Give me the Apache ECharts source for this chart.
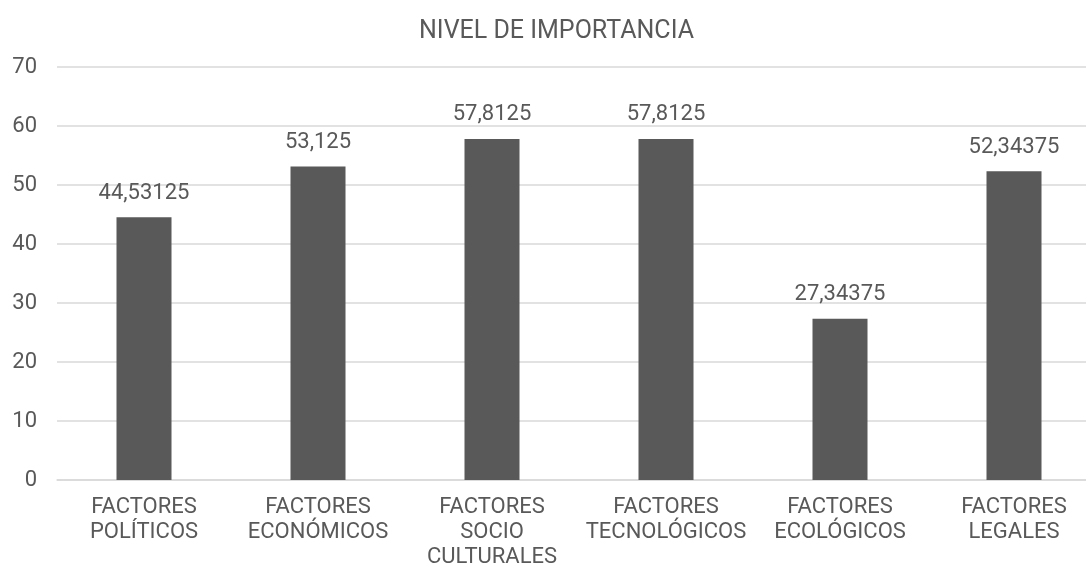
<!DOCTYPE html>
<html>
<head>
<meta charset="utf-8">
<script src="https://cdn.jsdelivr.net/npm/echarts@6/dist/echarts.min.js"></script>
<style>
  html, body { margin: 0; padding: 0; background: #ffffff; }
  #chart { width: 1086px; height: 566px; }
</style>
</head>
<body>
<div id="chart"></div>
<script>
// Importance level by PESTEL factor
const categories = [
  'FACTORES\nPOLÍTICOS',
  'FACTORES\nECONÓMICOS',
  'FACTORES\nSOCIO\nCULTURALES',
  'FACTORES\nTECNOLÓGICOS',
  'FACTORES\nECOLÓGICOS',
  'FACTORES\nLEGALES'
];
const values = [44.53125, 53.125, 57.8125, 57.8125, 27.34375, 52.34375];
const yTicks = [0, 10, 20, 30, 40, 50, 60, 70];

const textColor = '#595959';
const fontFamily = 'Roboto, "Liberation Sans", sans-serif';

const chart = echarts.init(document.getElementById('chart'), null, { renderer: 'canvas' });
chart.setOption({
  animation: false,
  backgroundColor: '#ffffff',
  title: {
    text: 'NIVEL DE IMPORTANCIA',
    left: 414,
    top: 14,
    textStyle: { color: textColor, fontFamily: fontFamily, fontSize: 25, fontWeight: 'normal' }
  },
  grid: { left: 57, right: -15, top: 67, bottom: 86, containLabel: false, outerBoundsMode: 'none' },
  xAxis: {
    type: 'category',
    data: categories,
    axisLine: { show: true, lineStyle: { color: '#d9d9d9', width: 1.5 } },
    axisTick: { show: false },
    axisLabel: {
      color: textColor, fontFamily: fontFamily, fontSize: 22,
      lineHeight: 25, margin: 15, interval: 0
    }
  },
  yAxis: {
    type: 'value',
    min: yTicks[0],
    max: yTicks[yTicks.length - 1],
    interval: 10,
    axisLine: { show: false },
    axisTick: { show: false },
    splitLine: { lineStyle: { color: '#d9d9d9', width: 1.5 } },
    axisLabel: { color: textColor, fontFamily: fontFamily, fontSize: 22, margin: 20 }
  },
  series: [{
    type: 'bar',
    data: values,
    barWidth: 55,
    itemStyle: { color: '#595959' },
    label: {
      show: true,
      position: 'top',
      distance: 13,
      color: textColor,
      fontFamily: fontFamily,
      fontSize: 22,
      formatter: p => String(p.value).replace('.', ',')
    }
  }]
});
</script>
</body>
</html>
